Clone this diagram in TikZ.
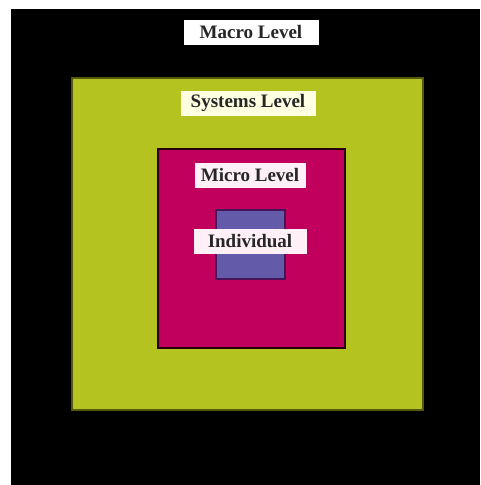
\documentclass[tikz,border=0pt]{standalone}
\usepackage{fontspec}
\setmainfont{Liberation Serif}
\definecolor{olivefill}{RGB}{180,195,32}
\definecolor{oliveedge}{RGB}{85,90,10}
\definecolor{magfill}{RGB}{192,0,92}
\definecolor{magedge}{RGB}{40,0,10}
\definecolor{indfill}{RGB}{100,90,170}
\definecolor{indedge}{RGB}{70,20,90}
\definecolor{tagpale}{RGB}{255,255,225}
\definecolor{tagpink}{RGB}{255,240,248}
\begin{document}
\begin{tikzpicture}[x=1pt,y=-1pt,
  levelbox/.style={draw,line width=2pt},
  tag/.style={inner sep=0pt,minimum height=25pt,font=\fontsize{19}{20}\selectfont\bfseries,text=black!85}]
\useasboundingbox (0,0) rectangle (480,485);
% outer black field
\fill[black] (11,9) rectangle (480,485);
% nested levels
\draw[levelbox,draw=oliveedge,fill=olivefill] (72,78) rectangle (423,410);
\draw[levelbox,draw=magedge,fill=magfill] (158,149) rectangle (345,348);
\draw[levelbox,draw=indedge,fill=indfill] (216,210) rectangle (285,279);
% level labels
\node[tag,fill=white,minimum width=135pt] (macro) at (251,32) {Macro Level};
\node[tag,fill=tagpale,minimum width=135pt] (systems) at (248,103) {Systems Level};
\node[tag,fill=tagpink,minimum width=111pt] (micro) at (250,175) {Micro Level};
\node[tag,fill=tagpink,minimum width=113pt] (indiv) at (250,241) {Individual};
\end{tikzpicture}
\end{document}
